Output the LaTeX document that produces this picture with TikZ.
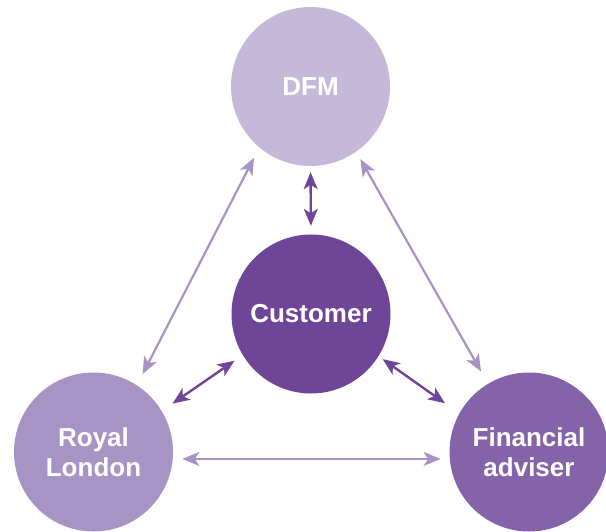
\documentclass[tikz,border=0pt]{standalone}
\usepackage{fontspec}
\setmainfont{Liberation Sans}
\usetikzlibrary{arrows.meta}
\definecolor{cdfm}{HTML}{C5B9DA}
\definecolor{ccust}{HTML}{6F4598}
\definecolor{crl}{HTML}{A893C5}
\definecolor{cfa}{HTML}{8463A9}
\definecolor{clight}{HTML}{A893C5}
\definecolor{cdark}{HTML}{6F4598}
\begin{document}
\begin{tikzpicture}[x=1pt,y=-1pt,
  bubble/.style={circle,inner sep=0pt,minimum size=159pt,text=white,
    font=\fontsize{26}{30}\selectfont\bfseries,align=center},
  lightarrow/.style={draw=clight,line width=2.2pt,
    {Stealth[length=17pt,width=14pt,inset=4.5pt]}-{Stealth[length=17pt,width=14pt,inset=4.5pt]}},
  darkarrow/.style={draw=cdark,line width=2.4pt,
    {Stealth[length=17pt,width=14pt,inset=4.5pt]}-{Stealth[length=17pt,width=14pt,inset=4.5pt]}}]
\useasboundingbox (0,0) rectangle (606,532);
\node[bubble,fill=cdfm] (dfm) at (310.5,86.5) {DFM};
\node[bubble,fill=ccust] (cust) at (311,314) {Customer};
\node[bubble,fill=crl] (rl) at (93.5,452) {Royal\\London};
\node[bubble,fill=cfa] (fa) at (529,452) {Financial\\adviser};
\draw[darkarrow,shorten <=6pt,shorten >=8.5pt] (dfm.south) -- (cust.north);
\draw[lightarrow,shorten <=11.5pt,shorten >=12.5pt] (dfm.230.8) -- (rl.57.3);
\draw[lightarrow,shorten <=8.5pt,shorten >=14pt] (dfm.305.8) -- (fa.121.5);
\draw[darkarrow,shorten <=10pt,shorten >=13pt] (cust.211.7) -- (rl.31.4);
\draw[darkarrow,shorten <=5pt,shorten >=17.5pt] (cust.328.6) -- (fa.151);
\draw[lightarrow,shorten <=9.4pt,shorten >=9pt] (rl.-5.2) -- (fa.185.2);
\end{tikzpicture}
\end{document}
